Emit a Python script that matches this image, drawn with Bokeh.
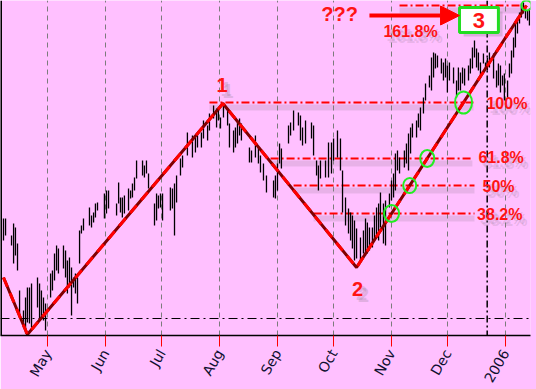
import numpy as np
from bokeh.plotting import figure
from bokeh.models import Range1d, FixedTicker, Span, Arrow, NormalHead
from bokeh.core.properties import value
from bokeh.embed import file_html
from bokeh.resources import INLINE

# x: calendar days counted from 2005-04-06 (day 0); y: price points
month_days = [25, 56, 86, 117, 148, 178, 209, 239, 270]
month_labels = ["May", "Jun", "Jul", "Aug", "Sep", "Oct", "Nov", "Dec", "2006"]

bar_day = [
    1.3, 2.4, 5.6, 6.7, 7.7, 8.8, 9.9, 12.0, 13.1, 14.1, 15.2, 16.3, 19.5, 20.6, 21.6, 22.7, 23.8,
    26.5, 27.5, 28.6, 29.7, 30.7, 33.4, 34.5, 35.5, 36.6, 37.7, 38.8, 39.8, 40.9, 42.0, 43.0, 44.1, 47.3, 48.4, 49.5, 50.5, 51.6,
    55.3, 56.4, 57.5, 61.8, 62.9, 63.9, 64.9, 66.0, 68.2, 69.3, 70.3, 71.4, 72.5, 75.7, 76.7, 77.8, 78.9, 82.1, 83.2, 84.2, 85.3, 86.4, 90.6, 91.7, 92.8, 93.9,
    96.0, 97.1, 99.7, 102.4, 104.0, 105.1, 107.2, 108.3, 110.5, 111.5, 113.7, 115.3, 116.3, 117.4, 119.0, 121.2, 122.2, 124.4, 125.4, 126.5, 127.6, 128.6,
    132.9, 134.0, 136.1, 137.7, 138.8, 140.4, 142.0, 145.8, 146.8, 147.9, 149.0, 150.0, 153.8, 154.9, 156.5, 159.1, 160.2, 161.3, 162.9,
    166.1, 167.2, 168.8, 169.8, 170.9, 173.6, 175.2, 176.8, 177.9, 180.0, 181.6, 182.7, 184.3, 185.9, 187.0, 188.0, 189.1, 190.2,
    192.3, 193.9, 195.0, 196.0, 197.1, 198.7, 199.8, 200.9, 202.0, 203.0, 204.6, 205.7, 207.8, 208.9, 210.0, 211.0, 212.1, 213.2,
    215.8, 216.9, 218.0, 219.1, 220.1, 222.3, 223.3, 224.4, 226.0, 227.1, 229.2, 230.3, 231.4, 232.4, 233.5, 235.6, 236.7, 237.8, 238.8, 239.9,
    242.1, 243.7, 244.7, 245.8, 246.9, 248.0, 250.1, 251.1, 252.2, 253.3, 254.4, 255.4, 256.5, 258.1, 259.2, 260.2, 261.3,
    263.5, 265.1, 266.1, 267.2, 268.3, 269.3, 271.0, 272.0, 273.1, 274.2, 275.2, 276.3, 277.4, 278.4, 279.5, 280.6, 281.7, 282.7,
]
bar_high = [
    117, 117, 100, 112, 108, 92, 45, 25, 38, 48, 48, 52, 58, 52, 45, 38, 32,
    62, 65, 82, 90, 87, 90, 85, 75, 78, 68, 58, 62, 58, 105, 110, 117, 128, 120, 123, 132, 133,
    142, 145, 145, 132, 153, 138, 138, 140, 147, 145, 152, 158, 175, 175, 170, 175, 162, 132, 142, 140, 142, 142, 148, 147, 152, 160,
    177, 180, 203, 200, 198, 202, 203, 215, 210, 222, 230, 227, 227, 218, 232, 227, 212, 205, 208, 213, 217, 212,
    188, 185, 200, 188, 180, 172, 160, 155, 160, 172, 192, 187, 210, 213, 225, 223, 220, 208, 215,
    213, 210, 175, 170, 175, 175, 193, 193, 197, 205, 197, 165, 138, 127, 123, 120, 115, 107,
    98, 105, 117, 113, 108, 108, 120, 128, 132, 143, 132, 135, 142, 155, 162, 182, 185, 178,
    185, 192, 202, 208, 212, 215, 222, 228, 238, 252, 260, 278, 283, 282, 280, 277, 273, 277, 270, 273,
    268, 255, 268, 263, 268, 267, 270, 277, 288, 295, 287, 283, 273, 282, 273, 278, 283,
    282, 265, 272, 270, 260, 262, 255, 272, 285, 298, 312, 318, 323, 332, 333, 328, 325, 327,
]
bar_low = [
    95, 100, 90, 72, 80, 65, 18, 8, 2, 13, 12, 8, 28, 15, 18, 15, 5,
    38, 45, 55, 65, 62, 67, 58, 42, 48, 20, 48, 42, 32, 72, 102, 105, 110, 108, 113, 118, 125,
    117, 122, 127, 120, 132, 123, 118, 122, 125, 137, 138, 145, 157, 160, 158, 162, 147, 110, 115, 127, 128, 115, 125, 127, 100, 133,
    160, 168, 180, 178, 183, 188, 188, 197, 195, 205, 217, 208, 215, 207, 218, 210, 188, 183, 188, 192, 200, 195,
    173, 173, 178, 172, 163, 155, 143, 138, 137, 145, 172, 167, 192, 200, 205, 210, 195, 190, 192,
    197, 180, 160, 145, 157, 158, 158, 162, 175, 178, 165, 123, 110, 102, 95, 87, 75, 77,
    75, 82, 80, 82, 85, 88, 95, 98, 95, 108, 92, 90, 128, 135, 138, 145, 165, 162,
    168, 172, 165, 182, 198, 198, 208, 205, 222, 235, 248, 245, 258, 267, 268, 262, 255, 258, 243, 255,
    252, 238, 245, 245, 252, 250, 255, 262, 267, 278, 268, 265, 257, 272, 265, 265, 268,
    257, 248, 250, 243, 250, 235, 238, 258, 262, 278, 288, 302, 312, 318, 322, 317, 315, 310,
]
assert len(bar_day) == len(bar_high) == len(bar_low)

# zig-zag wave points
wave_day = [1.3, 14.1, 118.7, 190.2, 281.1]
wave_price = [58, 1, 232, 68, 330]

# wave labels
wave_label = ["1", "2"]
wave_label_day = [118.3, 190.7]
wave_label_price = [251, 47]

# Fibonacci levels (drawn from point 2)
fib_labels = ["38.2%", "50%", "61.8%", "100%", "161.8%"]
fib_price = [122, 150, 177, 233, 330]
fib_start = [167.2, 156.5, 144.2, 111.5, 213.2]
fib_end = [253.3, 253.3, 252.2, 252.8, 279.5]
fib_label_day = [254.7, 257.6, 255.4, 259.7, 204.6]
fib_label_price = [121, 149, 178, 232.5, 304]
circle_w = [15, 13, 14, 17, 10]
circle_h = [17, 15, 17, 22, 10]

support_price = 17
marker_day = 260.1

# target annotation
q_text, q_day, q_price = "???", 181.1, 321.5
arrow_from, arrow_to, arrow_price = 197.1, 245.3, 320
box_left, box_right, box_bottom, box_top = 245.3, 266.1, 303, 328
target_text = "3"

PINK = "#FFC0FF"
RED = "#FF1414"
SHADOW = "#8A788A"
FONT = value("Liberation Sans")

p = figure(frame_width=530, frame_height=335, x_range=Range1d(-0.3, 283.27), y_range=Range1d(0, 335),
           output_backend="svg", toolbar_location=None, y_axis_location=None,
           min_border_left=0, min_border_right=6, min_border_top=0, min_border_bottom=54,
           background_fill_color=PINK, border_fill_color=PINK, outline_line_color=None)

# axis
ax = p.xaxis[0]
ax.ticker = FixedTicker(ticks=month_days)
ax.major_label_overrides = {d: l for d, l in zip(month_days, month_labels)}
ax.minor_tick_line_color = None
ax.major_tick_in = 0
ax.major_tick_out = 11
ax.major_tick_line_color = "red"
ax.axis_line_color = "black"
ax.axis_line_width = 1.5
ax.major_label_orientation = 1.047
ax.major_label_text_font = "DejaVu Sans"
ax.major_label_text_font_size = "14px"
ax.major_label_text_color = "#101030"
ax.major_label_standoff = 4

p.xgrid.ticker = FixedTicker(ticks=month_days)
p.xgrid.grid_line_color = "#7c7c7c"
p.xgrid.grid_line_dash = "5 4"
p.ygrid.visible = False

p.add_layout(Span(location=-0.3, dimension="height", line_color="black", line_width=3))
p.add_layout(Span(location=support_price, dimension="width", line_color="black", line_width=1,
                  line_dash="9 4 2 4", level="underlay"))
p.add_layout(Span(location=marker_day, dimension="height", line_color="black", line_width=1.5,
                  line_dash="7 3 2 3", level="underlay"))

# fib line shadows + lines
fp = np.array(fib_price, dtype=float)
p.segment(x0=fib_start, y0=fp - 5, x1=fib_end, y1=fp - 5, line_color=SHADOW, line_alpha=0.2, line_width=6)
p.segment(x0=fib_start, y0=fp, x1=fib_end, y1=fp, line_color="red", line_width=2, line_dash="8 3 2 3")

# price bars
p.segment(x0=bar_day, y0=bar_low, x1=bar_day, y1=bar_high, line_color="black", line_width=1.3)

# zigzag
p.line(wave_day, wave_price, line_color="#800000", line_width=3)
p.line(wave_day, wave_price, line_color="red", line_width=3, line_dash="10 7")

# circles at level crossings of wave 2->3
circle_day = np.interp(fp, [wave_price[3], wave_price[4]], [wave_day[3], wave_day[4]])
p.ellipse(x=circle_day, y=fp, width=circle_w, height=circle_h, width_units="screen", height_units="screen",
          fill_alpha=0, line_color="#22EE22", line_width=2)

# soft shadows (two offsets to mimic blur)
for dx, dy in [(3, 4), (5, 6)]:
    p.text(x=fib_label_day, y=fib_label_price, text=fib_labels, text_font=FONT, text_font_size="16px",
           text_font_style="bold", text_color=SHADOW, text_alpha=0.2, text_align="left", text_baseline="middle",
           x_offset=dx, y_offset=dy)
    p.text(x=wave_label_day, y=wave_label_price, text=wave_label, text_font=FONT, text_font_size="20px",
           text_font_style="bold", text_color=SHADOW, text_alpha=0.25, text_align="center", text_baseline="middle",
           x_offset=dx + 1, y_offset=dy)

p.text(x=fib_label_day, y=fib_label_price, text=fib_labels, text_font=FONT, text_font_size="16px",
       text_font_style="bold", text_color=RED, text_align="left", text_baseline="middle")
p.text(x=wave_label_day, y=wave_label_price, text=wave_label, text_font=FONT, text_font_size="20px",
       text_font_style="bold", text_color=RED, text_align="center", text_baseline="middle")

p.text(x=[q_day], y=[q_price], text=[q_text], text_font=FONT, text_font_size="20px", text_font_style="bold",
       text_color=RED, text_align="center", text_baseline="middle")

p.add_layout(Arrow(end=NormalHead(size=19, fill_color="red", line_color="red"),
                   x_start=arrow_from, y_start=arrow_price, x_end=arrow_to, y_end=arrow_price,
                   line_color="red", line_width=4))

# target box
p.quad(left=[box_left + 2.2], right=[box_right + 2.2], bottom=[box_bottom - 4], top=[box_top - 4],
       fill_color=SHADOW, fill_alpha=0.3, line_color=None)
p.quad(left=[box_left], right=[box_right], bottom=[box_bottom], top=[box_top],
       fill_color="white", line_color="#22DD22", line_width=3)
p.text(x=[(box_left + box_right) / 2], y=[(box_bottom + box_top) / 2], text=[target_text], text_font=FONT,
       text_font_size="22px", text_font_style="bold", text_color=RED, text_align="center", text_baseline="middle")

open("out.html", "w").write(file_html(p, INLINE))
